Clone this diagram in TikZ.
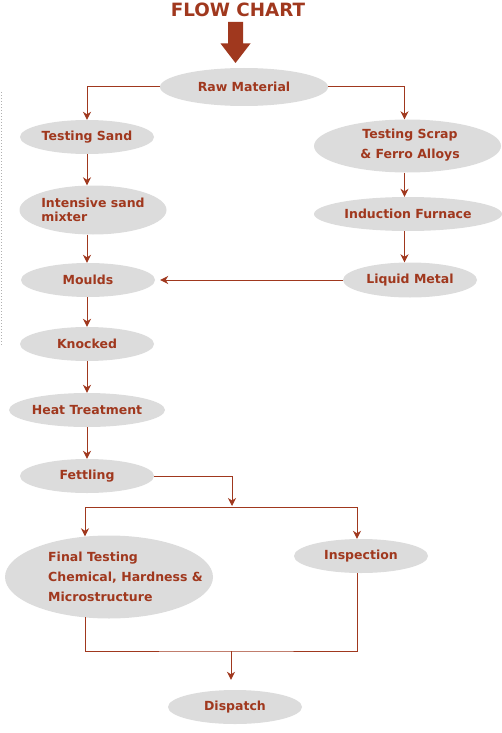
\documentclass[tikz,border=0pt]{standalone}
\usepackage{fontspec}
\setmainfont{DejaVu Sans}
\usetikzlibrary{shapes.geometric,arrows.meta,calc}
\definecolor{rust}{HTML}{A0381E}
\definecolor{pill}{HTML}{DCDCDC}
\definecolor{dotgray}{HTML}{B0B0B0}
\begin{document}
\begin{tikzpicture}[x=1pt,y=-1pt,
  box/.style={ellipse,fill=pill,draw=none,inner sep=0pt,text=rust,
    font=\bfseries\fontsize{12.5}{14}\selectfont},
  txt/.style={inner sep=0pt,text=rust,font=\bfseries\fontsize{12.5}{20}\selectfont},
  arr/.style={draw=rust,line width=1pt,-{Stealth[length=8pt,width=8pt,inset=2.5pt]}},
  ln/.style={draw=rust,line width=1pt}]
\useasboundingbox (0,0) rectangle (502,733);

% dotted margin line
\draw[dotgray,line width=0.9pt,dash pattern=on 1pt off 2pt] (1,92) -- (1,346);

% title and big arrow
\node[inner sep=0pt,text=rust,font=\bfseries\fontsize{18.3}{20}\selectfont] (title) at (238,10) {FLOW CHART};
\fill[rust] (228,22) -- (243,22) -- (243,43.5) -- (250.5,43.5) -- (235.5,63) -- (220.5,43.5) -- (228,43.5) -- cycle;

% nodes
\node[box,minimum width=168pt,minimum height=38pt] (raw) at (244,87) {Raw Material};
\node[box,minimum width=134pt,minimum height=34pt] (sand) at (87,137) {Testing Sand};
\node[box,minimum width=147pt,minimum height=49pt] (mix) at (93,210) {};
\node[txt,align=left,font=\bfseries\fontsize{12.5}{14}\selectfont] (mixt) at (93,210) {Intensive sand\\mixter};
\node[box,minimum width=134pt,minimum height=34pt] (moulds) at (88,280) {Moulds};
\node[box,minimum width=134pt,minimum height=34pt] (knock) at (87,344) {Knocked};
\node[box,minimum width=147pt,minimum height=34pt] (heat) at (87,410) {Heat Treatment};
\node[box,minimum width=134pt,minimum height=34pt] (fet) at (87,476) {Fettling};

\node[box,minimum width=187pt,minimum height=53pt] (scrap) at (407.5,146) {};
\node[txt,align=center] (scrapt) at (410,145) {Testing Scrap\\\& Ferro Alloys};
\node[box,minimum width=188pt,minimum height=34pt] (ind) at (408,214) {Induction Furnace};
\node[box,minimum width=134pt,minimum height=35pt] (liq) at (410,280) {Liquid Metal};

\node[box,minimum width=208pt,minimum height=83pt] (final) at (109,577) {};
\node[txt,align=left,anchor=west] (finalt) at (48,577) {Final Testing\\Chemical, Hardness \&\\Microstructure};
\node[box,minimum width=134pt,minimum height=34pt] (insp) at (361,556) {Inspection};
\node[box,minimum width=134pt,minimum height=34pt] (disp) at (235,707) {Dispatch};

% helper coordinates
\coordinate (split) at (232,507);
\coordinate (fl) at (85,507);
\coordinate (il) at (357,507);
\coordinate (jn) at (231,651);

% connectors
\draw[arr] (raw.west) -| (sand.north);
\draw[arr] (raw.east) -| ([xshift=-3pt]scrap.north);
\draw[arr] (sand.south) -- (sand |- mix.north);
\draw[arr] (sand |- mix.south) -- (sand |- moulds.north);
\draw[arr] ([xshift=-3pt]scrap.south) -- ([xshift=-3pt]scrap.south |- ind.north);
\draw[arr] ([xshift=-3pt]scrap.south |- ind.south) -- ([xshift=-3pt]scrap.south |- liq.north);
\draw[arr] (liq.west) -- ([xshift=5pt]moulds.east);
\draw[arr] (sand |- moulds.south) -- (sand |- knock.north);
\draw[arr] (sand |- knock.south) -- (sand |- heat.north);
\draw[arr] (sand |- heat.south) -- (sand |- fet.north);
\draw[arr] (fet.east) -| ([yshift=1pt]split);
\draw[ln] (fl) -- (il);
\draw[arr] (fl) -- ([yshift=-1pt]fl |- final.north);
\draw[arr] (il) -- (il |- insp.north);
\draw[ln] ([yshift=1.5pt]fl |- final.south) |- (jn) -| (il |- insp.south);
\draw[arr] (jn) -- ([yshift=10pt]jn |- disp.north);
\end{tikzpicture}
\end{document}
